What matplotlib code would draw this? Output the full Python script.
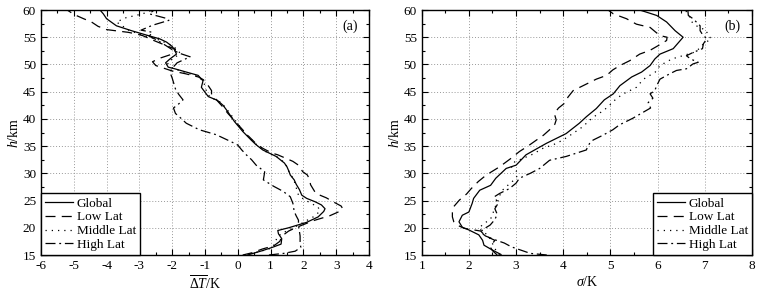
import numpy as np
import matplotlib
matplotlib.use("Agg")
import matplotlib.pyplot as plt
from matplotlib.ticker import MultipleLocator

plt.rcParams['font.family'] = ['Liberation Serif', 'DejaVu Serif']
plt.rcParams['mathtext.fontset'] = 'custom'
plt.rcParams['mathtext.rm'] = 'Liberation Serif'
plt.rcParams['mathtext.it'] = 'Liberation Serif:italic'
plt.rcParams['axes.unicode_minus'] = False

# ---- panel (a): mean temperature difference ----
h_glob_a = [15.0, 15.8, 16.4, 17.0, 18.0, 18.9, 19.5, 20.0, 21.0, 22.0, 23.0, 23.5, 24.2, 24.8, 25.4,
            26.0, 27.0, 28.0, 28.8, 29.7, 30.5, 31.2, 31.9, 33.1, 34.3, 35.3, 36.1, 37.7, 39.5, 41.7,
            42.5, 43.4, 44.1, 44.9, 45.8, 47.0, 48.0, 48.6, 49.2, 49.5, 50.3, 51.0, 51.9, 52.6, 53.3,
            54.1, 54.7, 55.3, 56.2, 57.1, 58.4, 59.3, 60.0]
dt_glob = [0.30, 0.75, 1.05, 1.32, 1.34, 1.24, 1.22, 1.55, 2.10, 2.45, 2.62, 2.66, 2.55, 2.35, 2.10,
           1.95, 1.88, 1.78, 1.72, 1.60, 1.55, 1.50, 1.42, 1.17, 0.76, 0.55, 0.41, 0.15, -0.10, -0.35,
           -0.45, -0.62, -0.90, -1.00, -1.11, -1.06, -1.21, -1.57, -1.92, -2.12, -2.20, -2.07, -1.87, -1.92, -2.00,
           -2.17, -2.38, -2.73, -3.24, -3.70, -4.00, -4.10, -4.20]

h_low_a = [15.0, 15.4, 16.1, 16.7, 17.5, 18.5, 19.4, 20.1, 21.3, 22.2, 23.0, 23.5, 24.0, 24.8, 25.5,
           26.3, 27.3, 27.9, 29.0, 29.7, 30.3, 31.5, 32.2, 32.8, 33.4, 33.7, 34.6, 35.5, 37.0, 39.0,
           41.0, 42.5, 43.5, 44.5, 45.2, 46.1, 47.2, 47.7, 48.3, 48.8, 49.3, 49.8, 50.5, 51.2, 52.0,
           52.8, 53.5, 54.5, 55.3, 55.6, 55.9, 56.4, 57.0, 57.8, 58.4, 59.2, 60.0]
dt_low = [0.15, 0.43, 0.75, 1.10, 1.28, 1.35, 1.55, 1.80, 2.30, 2.80, 3.10, 3.20, 3.15, 2.90, 2.70,
          2.38, 2.28, 2.22, 2.18, 2.12, 1.98, 1.85, 1.68, 1.45, 1.22, 1.05, 0.76, 0.55, 0.30, 0.00,
          -0.30, -0.50, -0.65, -0.80, -0.80, -0.90, -1.05, -1.20, -1.60, -2.00, -2.25, -2.50, -2.60, -2.35, -1.95,
          -1.90, -2.20, -2.60, -2.90, -3.09, -3.34, -4.00, -4.26, -4.46, -4.70, -5.00, -5.20]

h_mid_a = [15.0, 15.7, 16.3, 17.4, 18.3, 19.0, 20.0, 21.0, 22.0, 23.0, 23.8, 24.6, 25.3, 26.0, 27.0,
           28.0, 29.0, 30.0, 31.0, 32.0, 33.0, 34.0, 35.0, 36.0, 37.5, 39.5, 41.5, 43.0, 44.0, 45.0,
           46.0, 47.0, 48.0, 48.8, 49.5, 50.3, 51.0, 52.0, 52.8, 53.6, 54.5, 55.3, 56.2, 57.0, 57.8,
           58.6, 59.3, 60.0]
dt_mid = [0.20, 0.70, 1.05, 1.15, 1.20, 1.35, 1.70, 2.00, 2.30, 2.50, 2.45, 2.20, 2.00, 1.85, 1.80,
          1.75, 1.70, 1.58, 1.52, 1.42, 1.20, 0.85, 0.62, 0.45, 0.20, -0.05, -0.30, -0.50, -0.85, -0.95,
          -1.00, -1.05, -1.30, -1.75, -2.05, -2.15, -2.00, -1.75, -1.85, -2.05, -2.40, -2.85, -3.30, -3.50, -3.70,
          -3.40, -2.90, -2.60]

h_high_a = [15.0, 15.3, 15.7, 16.4, 17.5, 18.5, 19.3, 20.5, 21.4, 22.2, 23.0, 24.5, 25.7, 26.7, 27.6,
            28.8, 29.5, 30.3, 31.5, 32.5, 33.4, 34.3, 35.2, 35.8, 37.1, 38.0, 39.2, 40.1, 41.0, 42.0,
            43.0, 43.5, 44.5, 45.5, 46.5, 47.5, 48.6, 49.5, 50.3, 51.0, 51.4, 52.0, 52.6, 53.5, 54.5,
            55.2, 55.9, 56.3, 57.2, 58.1, 58.5, 59.3, 60.0]
dt_high = [0.95, 1.40, 1.75, 1.92, 1.90, 1.90, 1.88, 1.85, 1.85, 1.78, 1.72, 1.68, 1.60, 1.38, 1.10,
           0.78, 0.80, 0.82, 0.56, 0.42, 0.26, 0.12, 0.00, -0.20, -0.66, -1.17, -1.57, -1.73, -1.90, -1.96,
           -1.75, -1.67, -1.80, -1.90, -1.95, -2.00, -2.07, -1.97, -1.85, -1.60, -1.45, -1.75, -1.97, -2.20, -2.47,
           -2.70, -2.60, -2.95, -2.60, -2.10, -2.20, -2.70, -2.55]

# ---- panel (b): standard deviation ----
h_glob_b = [15.1, 15.9, 16.8, 17.7, 18.7, 19.6, 20.1, 21.1, 22.3, 22.9, 24.5, 25.4, 26.9, 27.8, 29.1,
            30.0, 30.9, 31.5, 33.4, 35.5, 37.3, 39.2, 40.4, 41.9, 43.5, 44.6, 46.1, 47.7, 48.6, 49.8,
            51.0, 51.9, 52.9, 55.0, 56.2, 57.8, 59.0, 60.0]
sd_glob = [2.68, 2.50, 2.32, 2.29, 2.21, 2.00, 1.86, 1.79, 1.86, 2.00, 2.07, 2.10, 2.23, 2.46, 2.57,
           2.68, 2.79, 3.00, 3.21, 3.64, 4.06, 4.34, 4.49, 4.70, 4.87, 5.06, 5.20, 5.45, 5.66, 5.84,
           5.94, 6.05, 6.33, 6.54, 6.37, 6.19, 5.98, 5.62]

h_low_b = [15.0, 15.8, 16.5, 17.7, 18.5, 19.4, 19.9, 20.5, 21.1, 22.0, 23.0, 23.9, 25.1, 26.2, 27.2,
           28.5, 29.7, 31.2, 32.8, 34.0, 35.0, 36.1, 37.0, 38.0, 39.0, 39.8, 41.0, 42.0, 42.9, 44.0,
           45.2, 46.1, 47.3, 48.0, 49.0, 49.8, 50.7, 51.9, 52.6, 53.5, 54.4, 55.0, 55.3, 56.0, 56.8,
           57.4, 58.4, 59.3, 60.0]
sd_low = [2.60, 2.50, 2.45, 2.55, 2.35, 2.25, 1.90, 1.75, 1.68, 1.65, 1.65, 1.68, 1.80, 1.95, 2.05,
          2.20, 2.37, 2.65, 2.90, 3.07, 3.25, 3.43, 3.58, 3.71, 3.82, 3.85, 3.81, 3.90, 4.03, 4.10,
          4.21, 4.42, 4.70, 4.92, 5.05, 5.20, 5.41, 5.62, 5.84, 6.02, 6.19, 6.20, 6.05, 5.95, 5.84,
          5.55, 5.34, 5.06, 4.95]

h_mid_b = [15.0, 15.9, 17.1, 18.0, 18.7, 19.9, 20.8, 21.5, 22.3, 23.6, 24.5, 25.7, 26.9, 28.0, 28.8,
           29.7, 30.5, 31.2, 32.1, 33.5, 34.6, 35.3, 36.1, 37.3, 38.6, 39.7, 40.7, 41.5, 42.5, 43.5,
           44.5, 45.8, 47.3, 48.6, 49.8, 51.0, 52.2, 53.0, 53.8, 54.7, 55.5, 56.2, 57.1, 58.0, 58.7,
           59.6, 60.0]
sd_mid = [2.65, 2.57, 2.50, 2.45, 2.39, 2.21, 2.32, 2.45, 2.50, 2.54, 2.60, 2.64, 2.71, 2.85, 2.96,
          3.04, 3.00, 2.90, 2.97, 3.35, 3.57, 3.80, 3.99, 4.20, 4.42, 4.55, 4.70, 4.85, 4.98, 5.10,
          5.25, 5.55, 5.70, 5.95, 6.05, 6.30, 6.76, 6.90, 6.97, 7.14, 7.05, 7.04, 6.82, 6.70, 6.68,
          6.61, 6.60]

h_high_b = [15.0, 15.3, 15.9, 16.5, 17.2, 17.8, 18.5, 19.2, 19.7, 20.5, 21.5, 22.5, 23.5, 24.5, 25.7,
            26.3, 27.2, 28.2, 29.1, 30.0, 30.9, 32.4, 33.1, 34.3, 35.0, 35.5, 36.1, 37.0, 38.0, 38.9,
            40.1, 41.0, 42.0, 43.0, 43.8, 44.6, 45.2, 46.1, 47.3, 48.3, 48.9, 49.2, 50.1, 50.4, 51.0,
            51.6, 52.2, 52.9, 53.8, 54.7, 55.5, 56.2, 57.1, 58.4, 59.0, 60.0]
sd_high = [3.65, 3.30, 3.10, 2.90, 2.75, 2.55, 2.35, 2.25, 2.30, 2.45, 2.55, 2.60, 2.55, 2.62, 2.54,
           2.65, 2.86, 3.00, 3.07, 3.30, 3.50, 3.71, 4.06, 4.49, 4.52, 4.56, 4.63, 4.84, 5.05, 5.19,
           5.47, 5.65, 5.85, 5.80, 5.90, 5.84, 5.94, 5.98, 6.05, 6.26, 6.40, 6.61, 6.75, 6.86, 6.70,
           6.61, 6.75, 6.95, 6.97, 7.04, 6.95, 6.90, 6.90, 6.75, 6.65, 6.64]

labels = ['Global', 'Low Lat', 'Middle Lat', 'High Lat']
styles = ['-', (0, (8, 5)), (0, (1, 4)), (0, (8, 3, 1.5, 3))]

fig = plt.figure(figsize=(7.63, 2.96), dpi=100)
ax1 = fig.add_axes([0.0537, 0.1385, 0.4299, 0.8277])
ax2 = fig.add_axes([0.5527, 0.1385, 0.4329, 0.8277])

series_a = [(dt_glob, h_glob_a), (dt_low, h_low_a), (dt_mid, h_mid_a), (dt_high, h_high_a)]
series_b = [(sd_glob, h_glob_b), (sd_low, h_low_b), (sd_mid, h_mid_b), (sd_high, h_high_b)]

for ax, series in ((ax1, series_a), (ax2, series_b)):
    for (x, y), lab, ls in zip(series, labels, styles):
        ax.plot(x, y, color='black', lw=0.9, ls=ls, label=lab)
    ax.set_ylim(15, 60)
    ax.yaxis.set_major_locator(MultipleLocator(5))
    ax.yaxis.set_minor_locator(MultipleLocator(2.5))
    ax.xaxis.set_major_locator(MultipleLocator(1))
    ax.xaxis.set_minor_locator(MultipleLocator(0.5))
    ax.tick_params(which='both', direction='in', top=True, right=True, labelsize=9.5)
    ax.tick_params(which='major', length=4, width=0.8)
    ax.tick_params(which='minor', length=2.5, width=0.8)
    ax.grid(True, which='major', color='#999999', ls=(0, (1, 2)), lw=0.7)
    for sp in ax.spines.values():
        sp.set_linewidth(1.0)
    ax.set_ylabel(r'$h$/km', fontsize=10, labelpad=1)
    leg = ax.legend(loc='lower left' if ax is ax1 else 'lower right', fontsize=9.5,
                    handlelength=2.1, handletextpad=0.3, borderpad=0.3,
                    labelspacing=0.12, borderaxespad=0.0, fancybox=False,
                    framealpha=1, edgecolor='black')
    leg.get_frame().set_linewidth(1.0)

ax1.set_xlim(-6, 4)
ax2.set_xlim(1, 8)
ax1.set_xlabel(r'$\overline{\Delta T}$/K', fontsize=10, labelpad=2)
ax2.set_xlabel(r'$\sigma$/K', fontsize=10, labelpad=2)
ax1.text(0.965, 0.962, '(a)', transform=ax1.transAxes, ha='right', va='top', fontsize=10)
ax2.text(0.965, 0.962, '(b)', transform=ax2.transAxes, ha='right', va='top', fontsize=10)

fig.savefig('out.png', dpi=100)
